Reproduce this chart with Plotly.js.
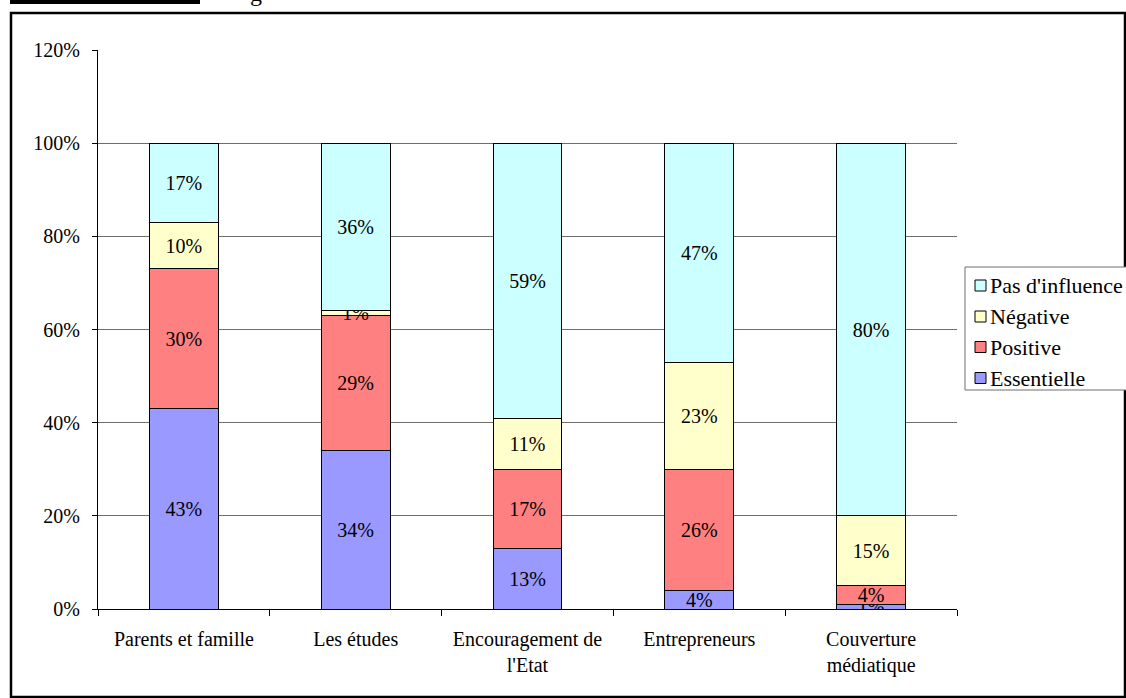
<!DOCTYPE html>
<html>
<head>
<meta charset="utf-8">
<script src="https://cdn.plot.ly/plotly-3.0.1.min.js"></script>
<style>
html,body{margin:0;padding:0;background:#fff;}
#chart{width:1126px;height:698px;}
</style>
</head>
<body>
<div id="chart"></div>
<script>
const categories = ["Parents et famille", "Les études", "Encouragement de<br>l'Etat", "Entrepreneurs", "Couverture<br>médiatique"];
const essentielle = [0.43, 0.34, 0.13, 0.04, 0.01];
const positive = [0.30, 0.29, 0.17, 0.26, 0.04];
const negative = [0.10, 0.01, 0.11, 0.23, 0.15];
const pasInfluence = [0.17, 0.36, 0.59, 0.47, 0.80];
const seriesNames = ["Essentielle", "Positive", "Négative", "Pas d'influence"];
const seriesColors = ["#9999FF", "#FF8080", "#FFFFCC", "#CCFFFF"];
const yTickVals = [0, 0.2, 0.4, 0.6, 0.8, 1.0, 1.2];

const FONT = "'Liberation Serif', 'Times New Roman', serif";
const FS = 20;
const allSeries = [essentielle, positive, negative, pasInfluence];

const traces = allSeries.map((vals, i) => ({
  type: 'bar',
  name: seriesNames[i],
  x: categories,
  y: vals,
  width: 0.4,
  showlegend: false,
  marker: {color: seriesColors[i], line: {color: '#000', width: 1}},
  text: vals.map(v => Math.round(v * 100) + '%'),
  textposition: 'inside',
  insidetextanchor: 'middle',
  constraintext: 'none',
  textangle: 0,
  textfont: {family: FONT, size: FS, color: '#000'},
  hoverinfo: 'none'
}));

const W = 859, H = 559, L = 98, T = 50;
const px = x => (x - L) / W;
const py = y => (T + H - y) / H;

// custom legend (top entry = last series)
const legendShapes = [];
const legendAnns = [];
const rowY = [285.5, 316.5, 347, 378];
seriesNames.slice().reverse().forEach((name, k) => {
  const i = seriesNames.length - 1 - k;
  const cy = rowY[k];
  legendShapes.push({type: 'rect', xref: 'paper', yref: 'paper',
    x0: px(975), x1: px(986), y0: py(cy + 5.5), y1: py(cy - 5.5),
    line: {color: '#000', width: 1}, fillcolor: seriesColors[i], layer: 'above'});
  legendAnns.push({xref: 'paper', yref: 'paper', x: px(988), y: py(cy), xanchor: 'left', yanchor: 'middle',
    text: name, showarrow: false, font: {family: FONT, size: 22, color: '#000'}});
});

const layout = {
  width: 1126, height: 698,
  margin: {l: 98, r: 169, t: 50, b: 89},
  paper_bgcolor: '#fff', plot_bgcolor: '#fff',
  barmode: 'stack',
  showlegend: false,
  font: {family: FONT, size: FS, color: '#000'},
  xaxis: {
    type: 'category',
    tickson: 'boundaries',
    ticks: 'outside', ticklen: 6, tickcolor: '#000', tickwidth: 1,
    ticklabelstandoff: 12,
    showline: true, linecolor: '#000', linewidth: 1,
    showgrid: false,
    tickfont: {family: FONT, size: FS, color: '#000'},
    fixedrange: true
  },
  yaxis: {
    range: [0, 1.2],
    tickvals: yTickVals,
    ticktext: yTickVals.map(v => Math.round(v * 100) + '%'),
    ticks: 'outside', ticklen: 5, tickcolor: '#000', tickwidth: 1,
    ticklabelstandoff: 8,
    showline: true, linecolor: '#000', linewidth: 1,
    showgrid: true, gridcolor: '#6e6e6e', gridwidth: 1,
    zeroline: false,
    tickfont: {family: FONT, size: FS, color: '#000'},
    fixedrange: true
  },
  shapes: [
    {type: 'rect', xref: 'paper', yref: 'paper', x0: px(11), x1: px(1125), y0: py(697), y1: py(13),
     line: {color: '#000', width: 2.5}, fillcolor: 'rgba(0,0,0,0)', layer: 'above'},
    {type: 'rect', xref: 'paper', yref: 'paper', x0: px(10), x1: px(200), y0: py(4), y1: py(-2),
     line: {width: 0}, fillcolor: '#000', layer: 'above'},
    {type: 'rect', xref: 'paper', yref: 'paper', x0: px(965), x1: px(1128), y0: py(390), y1: py(267),
     line: {color: '#6e6e6e', width: 1}, fillcolor: '#fff', layer: 'above'}
  ].concat(legendShapes),
  annotations: [
    {xref: 'paper', yref: 'paper', x: px(248), y: py(8), xanchor: 'left', yanchor: 'bottom',
     text: 'g', showarrow: false, font: {family: FONT, size: 24, color: '#000'}}
  ].concat(legendAnns)
};

Plotly.newPlot('chart', traces, layout, {displayModeBar: false, staticPlot: true});
</script>
</body>
</html>
